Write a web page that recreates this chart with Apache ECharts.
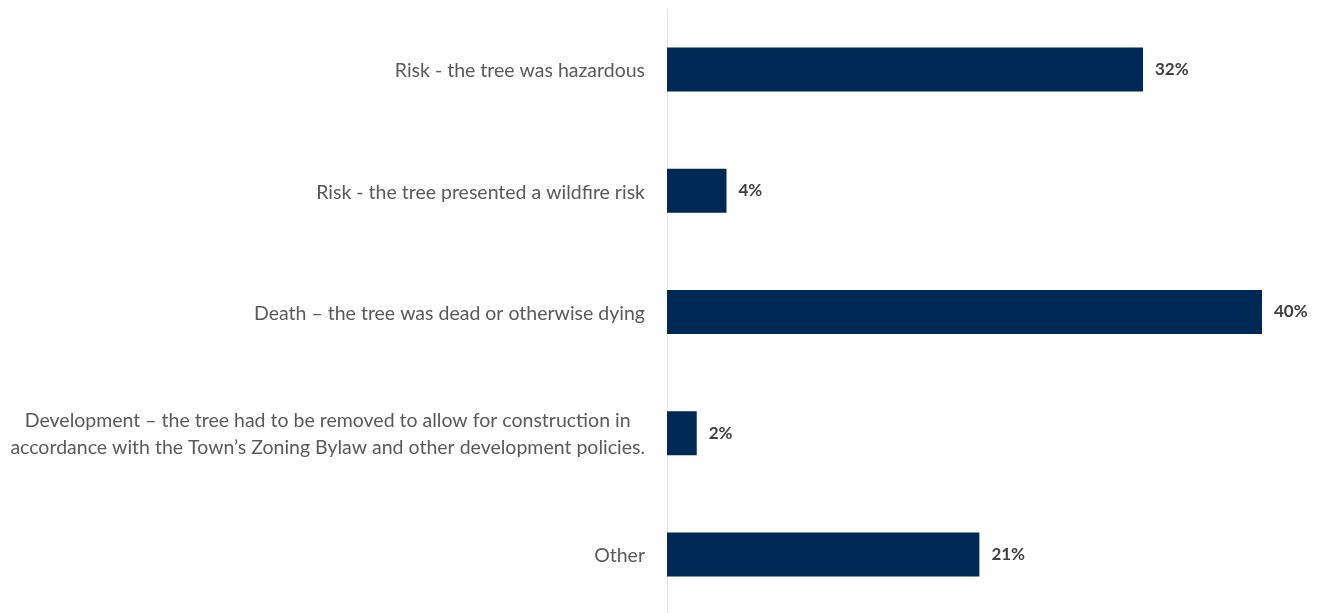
<!DOCTYPE html>
<html>
<head>
<meta charset="utf-8">
<script src="https://cdn.jsdelivr.net/npm/echarts@6/dist/echarts.min.js"></script>
<style>
  html, body { margin: 0; padding: 0; background: #ffffff; }
  #chart { width: 1323px; height: 613px; }
</style>
</head>
<body>
<div id="chart"></div>
<script>
// Reasons given for removing a tree (share of responses, %)
const categories = [
  'Risk - the tree was hazardous',
  'Risk - the tree presented a wildfire risk',
  'Death \u2013 the tree was dead or otherwise dying',
  'Development \u2013 the tree had to be removed to allow for construction in\naccordance with the Town\u2019s Zoning Bylaw and other development policies.',
  'Other'
];
const shares = [32, 4, 40, 2, 21];

const chart = echarts.init(document.getElementById('chart'), null, { renderer: 'canvas' });

chart.setOption({
  animation: false,
  backgroundColor: '#ffffff',
  grid: { left: 667, right: 61, top: 9, height: 606, containLabel: false, outerBoundsMode: 'none' },
  xAxis: {
    type: 'value',
    min: 0,
    max: 40,
    show: false
  },
  yAxis: {
    type: 'category',
    data: categories,
    inverse: true,
    axisLine: { show: true, lineStyle: { color: '#e3e3e3', width: 1 } },
    axisTick: { show: false },
    splitLine: { show: false },
    axisLabel: {
      margin: 22,
      color: '#5a5a5a',
      fontFamily: 'Lato',
      fontSize: 19.5,
      lineHeight: 27,
      formatter: function (v) {
        return v.split('\n').map(function (l) { return '{c|' + l + '}'; }).join('\n');
      },
      rich: {
        c: { align: 'center', color: '#5a5a5a', fontFamily: 'Lato', fontSize: 19.5, lineHeight: 27, padding: [3, 0, 0, 0] }
      }
    }
  },
  series: [{
    type: 'bar',
    data: shares,
    barWidth: 44,
    itemStyle: { color: '#002855' },
    label: {
      show: true,
      position: 'right',
      distance: 12,
      formatter: '{c}%',
      color: '#404040',
      fontFamily: 'Lato',
      fontWeight: 'bold',
      fontSize: 17
    }
  }]
});
</script>
</body>
</html>
